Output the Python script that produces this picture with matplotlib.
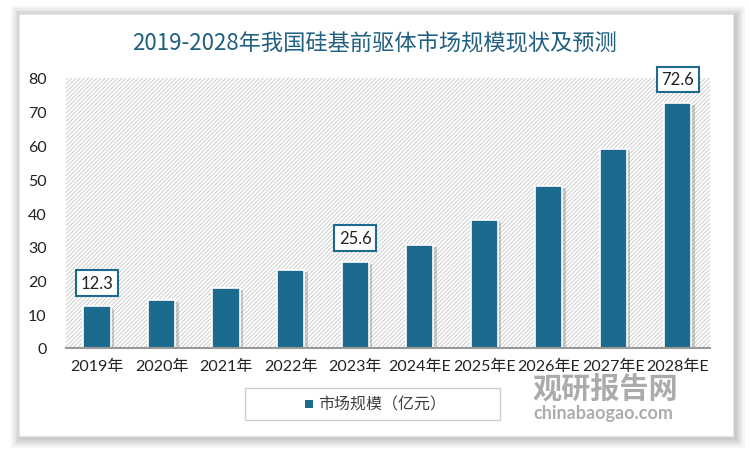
import matplotlib.pyplot as plt
import matplotlib.patheffects as pe
from matplotlib.patches import Rectangle

plt.rcParams['font.family'] = ['Lato', 'Noto Sans CJK SC', 'DejaVu Sans']
plt.rcParams['hatch.linewidth'] = 0.6

# data
years = ['2019年', '2020年', '2021年', '2022年', '2023年',
         '2024年E', '2025年E', '2026年E', '2027年E', '2028年E']
market_size = [12.3, 14.2, 17.7, 23.1, 25.6, 30.4, 37.9, 47.9, 58.9, 72.6]
labelled = [0, 4, 9]

teal = '#1c6a8e'

fig = plt.figure(figsize=(7.5, 4.52), dpi=100)
fig.patch.set_facecolor('white')

# card with a soft shadow
for i in range(6):
    d = (6 - i) * 1.6
    fig.patches.append(Rectangle((19 - d + 2, 15 - d - 2), 714 + 2 * d, 422 + 2 * d,
                                 transform=None, facecolor='black', alpha=0.035,
                                 edgecolor='none', zorder=0))
card = Rectangle((19 / 750, 15 / 452), 714 / 750, 422 / 452, transform=fig.transFigure,
                 facecolor='white', edgecolor='#e6e6e6', linewidth=0.8, zorder=1)
fig.patches.append(card)

ax = fig.add_axes([66 / 750, 103 / 452, 644 / 750, 270 / 452])
ax.set_zorder(2)
ax.patch.set_facecolor('white')
ax.add_patch(Rectangle((0, 0), 1, 1, transform=ax.transAxes, facecolor='white',
                       edgecolor='#c4c4c4', hatch='////////', linewidth=0, zorder=0))

x = range(len(years))
bars = ax.bar(x, market_size, width=0.42, color=teal, edgecolor='white',
              linewidth=1.2, zorder=3)
for b in bars:
    b.set_path_effects([pe.SimplePatchShadow(offset=(2.5, -1.5), shadow_rgbFace='#666666', alpha=0.3),
                        pe.Normal()])

for i in labelled:
    ax.annotate(f'{market_size[i]}', (i, market_size[i]), xytext=(0, 17),
                textcoords='offset points', ha='center', va='center',
                fontsize=12, color='#222222', zorder=5,
                bbox=dict(boxstyle='square,pad=0.28', facecolor='white',
                          edgecolor=teal, linewidth=1.5))

ax.set_xlim(-0.48, 9.5)
ax.set_ylim(0, 80)
ax.set_yticks(range(0, 81, 10))
ax.set_xticks(list(x))
ax.set_xticklabels(years)
ax.tick_params(axis='both', length=0, labelsize=11.5, colors='#222222')
ax.tick_params(axis='x', pad=8)
ax.tick_params(axis='y', pad=14)
for s in ['top', 'right', 'left']:
    ax.spines[s].set_visible(False)
ax.spines['bottom'].set_color('#999999')
ax.spines['bottom'].set_linewidth(1.5)
ax.spines['bottom'].set_zorder(4)

fig.text(0.5, 0.905, '2019-2028年我国硅基前驱体市场规模现状及预测', ha='center', va='center',
         fontsize=16, color='#1f5f80', family=['Noto Sans CJK SC'], zorder=5)

# legend box
fig.patches.append(Rectangle((245 / 750, 31 / 452), 255 / 750, 32 / 452,
                             transform=fig.transFigure, facecolor='white',
                             edgecolor='#d0d0d0', linewidth=1, zorder=3))
fig.patches.append(Rectangle((305 / 750, 43 / 452), 8 / 750, 8 / 452,
                             transform=fig.transFigure, facecolor=teal,
                             edgecolor='none', zorder=4))
fig.text(318 / 750, 47 / 452, '市场规模（亿元）', ha='left', va='center', fontsize=11.5,
         color='#404040', family=['Noto Sans CJK SC'], zorder=5)

# watermark
fig.text(605 / 750, 63 / 452, '观研报告网', ha='center', va='center', fontsize=21,
         fontweight='bold', color='#8f8f8f', alpha=0.75,
         family=['Noto Sans CJK SC'], zorder=6)
fig.text(603 / 750, 38 / 452, 'chinabaogao.com', ha='center', va='center', fontsize=13,
         fontweight='bold', color='#8a8a8a', alpha=0.7, zorder=6)

fig.savefig('out.png', dpi=100)
